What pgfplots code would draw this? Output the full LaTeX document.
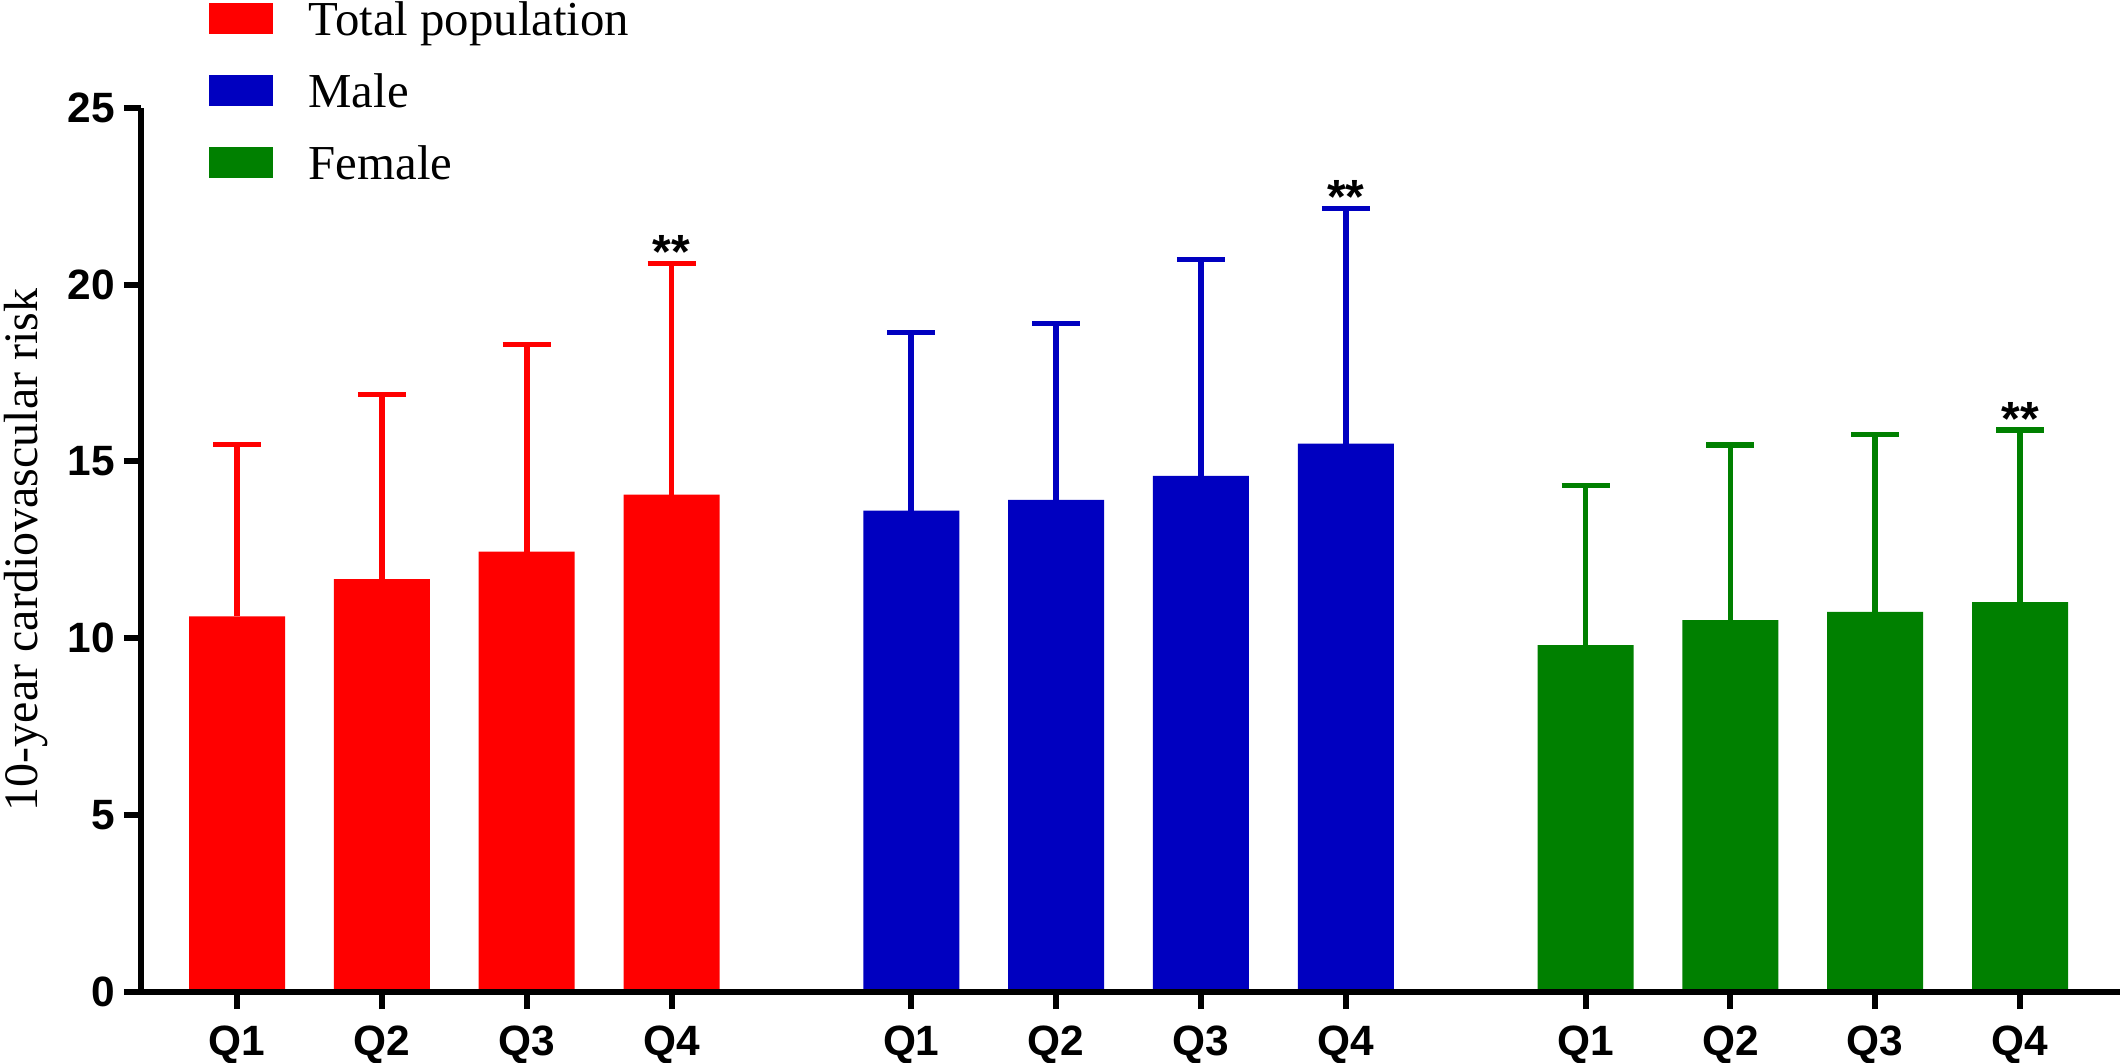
\documentclass[border=0pt]{standalone}
\usepackage{fontspec}
\setmainfont{Liberation Serif}
\setsansfont{Liberation Sans}
\newfontfamily\serifont{Liberation Serif}
\newfontfamily\sansfont{Liberation Sans}
\usepackage{pgfplots}
\usepackage{pgfplotstable}
\pgfplotsset{compat=1.18}
\definecolor{cred}{RGB}{255,0,0}
\definecolor{cblue}{RGB}{0,0,192}
\definecolor{cgreen}{RGB}{0,128,0}

\pgfplotstableread{
x y err
0 10.62 4.86
1 11.67 5.22
2 12.45 5.85
3 14.06 6.53
}\tabred
\pgfplotstableread{
x y err
4.655 13.61 5.04
5.655 13.91 4.99
6.655 14.59 6.12
7.655 15.50 6.65
}\tabblue
\pgfplotstableread{
x y err
9.31 9.81 4.51
10.31 10.51 4.96
11.31 10.75 5.01
12.31 11.02 4.86
}\tabgreen

\begin{document}
\begin{tikzpicture}
\useasboundingbox (-35.25pt,-17.5pt) rectangle (494.75pt,248pt);
\begin{axis}[
  scale only axis, width=494.75pt, height=221.08pt,
  xmin=-0.663, xmax=13.0, ymin=0, ymax=25,
  axis x line*=bottom, axis y line*=left,
  axis line style={line width=1.5pt,-},
  axis on top, clip=false,
  ytick={0,5,10,15,20,25},
  xtick={0,1,2,3,4.655,5.655,6.655,7.655,9.31,10.31,11.31,12.31},
  xticklabels={Q1,Q2,Q3,Q4,Q1,Q2,Q3,Q4,Q1,Q2,Q3,Q4},
  tick align=outside, major tick length=4.3pt,
  tick style={line width=1.5pt, black},
  /pgf/number format/assume math mode=true,
  yticklabel style={font=\sansfont\bfseries\fontsize{10.6}{12}\selectfont, inner xsep=2.0pt},
  xticklabel style={font=\sansfont\bfseries\fontsize{10.6}{12}\selectfont, inner ysep=3.95pt},
  ylabel={10-year cardiovascular risk},
  ylabel style={font=\serifont\fontsize{12}{14}\selectfont, at={(axis description cs:-0.05205,0.5)}, anchor=base, inner sep=0pt},
  legend style={draw=none, fill=none, inner sep=0pt, outer sep=0pt,
    at={(axis description cs:0.03416,1.1364)}, anchor=north west,
    column sep=9pt, row sep=0pt, font=\serifont\fontsize{12.2}{14}\selectfont,
    nodes={inner sep=0pt, text height=12pt, text depth=6pt}},
  legend cell align=left,
]
\addplot[ybar, bar width=24pt, bar shift=0pt, fill=cred, draw=none,
  legend image code/.code={\fill[cred] (0pt,-2.7pt) rectangle (16pt,5pt);},
  error bars/.cd, y dir=plus, y explicit, error mark=|,
  error bar style={line width=1.4pt, cred},
  error mark options={line width=1.4pt, mark size=6pt, cred}]
  table[x=x, y=y, y error=err]{\tabred};
\addlegendentry{Total population}
\addplot[ybar, bar width=24pt, bar shift=0pt, fill=cblue, draw=none,
  legend image code/.code={\fill[cblue] (0pt,-2.7pt) rectangle (16pt,5pt);},
  error bars/.cd, y dir=plus, y explicit, error mark=|,
  error bar style={line width=1.4pt, cblue},
  error mark options={line width=1.4pt, mark size=6pt, cblue}]
  table[x=x, y=y, y error=err]{\tabblue};
\addlegendentry{Male}
\addplot[ybar, bar width=24pt, bar shift=0pt, fill=cgreen, draw=none,
  legend image code/.code={\fill[cgreen] (0pt,-2.7pt) rectangle (16pt,5pt);},
  error bars/.cd, y dir=plus, y explicit, error mark=|,
  error bar style={line width=1.4pt, cgreen},
  error mark options={line width=1.4pt, mark size=6pt, cgreen}]
  table[x=x, y=y, y error=err]{\tabgreen};
\addlegendentry{Female}
\node[font=\sansfont\bfseries\fontsize{12}{14}\selectfont, anchor=base, inner sep=0pt, yshift=-1.2pt] at (axis cs:3,20.59) {**};
\node[font=\sansfont\bfseries\fontsize{12}{14}\selectfont, anchor=base, inner sep=0pt, yshift=-1.2pt] at (axis cs:7.655,22.15) {**};
\node[font=\sansfont\bfseries\fontsize{12}{14}\selectfont, anchor=base, inner sep=0pt, yshift=-1.2pt] at (axis cs:12.31,15.88) {**};
\end{axis}
\end{tikzpicture}
\end{document}
